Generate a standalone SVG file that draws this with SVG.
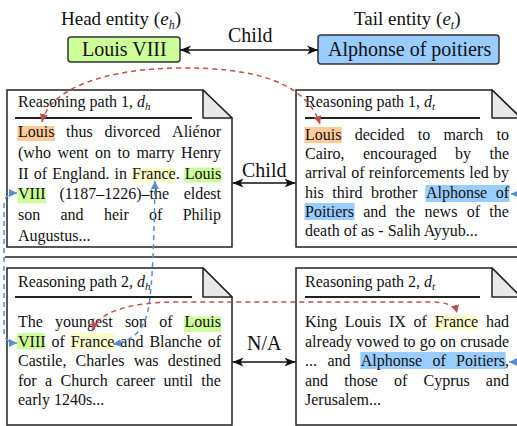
<svg xmlns="http://www.w3.org/2000/svg" width="517" height="426" viewBox="0 0 517 426">
  <style>
    text { font-family: "Liberation Serif", "Times New Roman", serif; fill: #111; }
    .body { font-size: 16px; }
    .hdr { font-size: 16px; }
    .title { font-size: 19px; }
    .lbl { font-size: 20px; }
    .it { font-style: italic; }
    .card { fill: #fff; stroke: #222; stroke-width: 1.5; }
    .fold { fill: #e8e8e8; stroke: #222; stroke-width: 1.5; stroke-linejoin: round; }
    .rule { stroke: #222; stroke-width: 1.8; }
    .ent { stroke: #333; stroke-width: 1.5; }
    .hl-o { fill: #ffcc99; }
    .hl-g { fill: #ccff99; }
    .hl-y { fill: #ffffcc; }
    .hl-b { fill: #99ccff; }
    .rel { fill: none; stroke: #111; stroke-width: 1.5; marker-start: url(#arr); marker-end: url(#arr); }
    .red { fill: none; stroke: #c0504d; stroke-width: 1.5; stroke-dasharray: 5 4; marker-start: url(#tipR); marker-end: url(#tipR); }
    .blue { fill: none; stroke: #5b8bd0; stroke-width: 1.5; stroke-dasharray: 5 4; marker-start: url(#tipB); marker-end: url(#tipB); }
  </style>
  <defs>
    <marker id="arr" markerUnits="userSpaceOnUse" markerWidth="12" markerHeight="10" refX="11" refY="5" orient="auto-start-reverse">
      <path d="M0,0.5 L11,5 L0,9.5 L3,5 Z" fill="#111"/>
    </marker>
    <marker id="tipR" markerUnits="userSpaceOnUse" markerWidth="9" markerHeight="9" refX="8" refY="4" orient="auto-start-reverse">
      <path d="M0,0 L8,4 L0,8 Z" fill="#c0504d"/>
    </marker>
    <marker id="tipB" markerUnits="userSpaceOnUse" markerWidth="9" markerHeight="9" refX="8" refY="4" orient="auto-start-reverse">
      <path d="M0,0 L8,4 L0,8 Z" fill="#5b8bd0"/>
    </marker>
  </defs>

  <!-- entities -->
  <g id="head-entity">
    <text class="title" x="61" y="25">Head entity (<tspan class="it">e</tspan><tspan class="it" font-size="12" dy="4">h</tspan><tspan dy="-4">)</tspan></text>
    <rect class="ent" x="68" y="37" width="112" height="25" rx="3" fill="#ccff99"/>
    <text class="lbl" x="82" y="56">Louis VIII</text>
  </g>
  <g id="tail-entity">
    <text class="title" x="354" y="25">Tail entity (<tspan class="it">e</tspan><tspan class="it" font-size="12" dy="4">t</tspan><tspan dy="-4">)</tspan></text>
    <rect class="ent" x="318" y="35" width="181" height="29" rx="3" fill="#99ccff"/>
    <text class="lbl" x="328" y="56">Alphonse of poitiers</text>
  </g>

  <!-- row separator -->
  <line x1="5" y1="257" x2="517" y2="257" stroke="#222" stroke-width="1.5"/>

  <!-- reasoning path 1, head document -->
  <g id="path1-head">
    <path class="card" d="M7,90 H203 L232,118 V247 H7 Z"/>
    <path class="fold" d="M203,90 V118 H232 Z"/>
    <text class="hdr" x="18" y="107">Reasoning path 1, <tspan class="it">d</tspan><tspan class="it" font-size="11" dy="3">h</tspan></text>
    <line class="rule" x1="15" y1="118" x2="192" y2="118"/>
    <rect class="hl-o" x="17.5" y="126" width="37.4" height="15"/>
    <rect class="hl-y" x="131.6" y="167.6" width="44.5" height="15"/>
    <rect class="hl-g" x="184.2" y="167.6" width="37.2" height="15"/>
    <rect class="hl-g" x="17.5" y="188.4" width="28.5" height="15"/>
    <text class="body" y="137"><tspan x="18">Louis</tspan><tspan x="66.1">thus</tspan><tspan x="104.4">divorced</tspan><tspan x="172.1">Aliénor</tspan></text>
    <text class="body" y="157.8"><tspan x="18">(who</tspan><tspan x="57.4">went</tspan><tspan x="95">on</tspan><tspan x="117.5">to</tspan><tspan x="136.4">marry</tspan><tspan x="181.1">Henry</tspan></text>
    <text class="body" y="178.6"><tspan x="18">II</tspan><tspan x="33.8">of</tspan><tspan x="52.2">England.</tspan><tspan x="114.6">in</tspan><tspan x="132.1">France.</tspan><tspan x="184.7">Louis</tspan></text>
    <text class="body" y="199.4"><tspan x="18">VIII</tspan><tspan x="59.5">(1187–1226)–the</tspan><tspan x="183.7">eldest</tspan></text>
    <text class="body" y="220.2"><tspan x="18">son</tspan><tspan x="60.5">and</tspan><tspan x="103.9">heir</tspan><tspan x="149.1">of</tspan><tspan x="182.7">Philip</tspan></text>
    <text class="body" x="18" y="241">Augustus...</text>
  </g>

  <!-- reasoning path 1, tail document -->
  <g id="path1-tail">
    <path class="card" d="M296,90 H492 L521,118 V247 H296 Z"/>
    <path class="fold" d="M492,90 V118 H521 Z"/>
    <text class="hdr" x="305" y="107">Reasoning path 1, <tspan class="it">d</tspan><tspan class="it" font-size="11" dy="3">t</tspan></text>
    <line class="rule" x1="305" y1="118" x2="480" y2="118"/>
    <rect class="hl-o" x="304.5" y="127" width="37.4" height="16"/>
    <rect class="hl-b" x="425.4" y="185" width="84.1" height="17"/>
    <rect class="hl-b" x="304.5" y="203" width="50" height="17"/>
    <text class="body" y="140"><tspan x="305">Louis</tspan><tspan x="354.7">decided</tspan><tspan x="417.7">to</tspan><tspan x="443.4">march</tspan><tspan x="496.6">to</tspan></text>
    <text class="body" y="159.2"><tspan x="305">Cairo,</tspan><tspan x="363">encouraged</tspan><tspan x="455.1">by</tspan><tspan x="489.5">the</tspan></text>
    <text class="body" y="178.4"><tspan x="305">arrival</tspan><tspan x="351.2">of</tspan><tspan x="368.8">reinforcements</tspan><tspan x="469.2">led</tspan><tspan x="493.1">by</tspan></text>
    <text class="body" y="197.6"><tspan x="305">his</tspan><tspan x="332.3">third</tspan><tspan x="371.1">brother</tspan><tspan x="425.9">Alphonse</tspan><tspan x="495.8">of</tspan></text>
    <text class="body" y="216.8"><tspan x="305">Poitiers</tspan><tspan x="363.2">and</tspan><tspan x="395.6">the</tspan><tspan x="424.5">news</tspan><tspan x="466.7">of</tspan><tspan x="489.3">the</tspan></text>
    <text class="body" x="305" y="236">death of as - Salih Ayyub...</text>
  </g>

  <!-- reasoning path 2, head document -->
  <g id="path2-head">
    <path class="card" d="M7,268 H203 L232,297 V425 H7 Z"/>
    <path class="fold" d="M203,268 V297 H232 Z"/>
    <text class="hdr" x="18" y="287">Reasoning path 2, <tspan class="it">d</tspan><tspan class="it" font-size="11" dy="3">h</tspan></text>
    <line class="rule" x1="15" y1="297" x2="192" y2="297"/>
    <rect class="hl-g" x="184.1" y="316.5" width="37.2" height="15.5"/>
    <rect class="hl-g" x="17" y="333" width="28" height="16.5"/>
    <rect class="hl-y" x="70.3" y="333" width="44" height="16.5"/>
    <text class="body" y="327"><tspan x="18">The</tspan><tspan x="55">youngest</tspan><tspan x="124.9">son</tspan><tspan x="159.2">of</tspan><tspan x="184.6">Louis</tspan></text>
    <text class="body" y="346.5"><tspan x="18">VIII</tspan><tspan x="51.5">of</tspan><tspan x="70.8">France</tspan><tspan x="120.3">and</tspan><tspan x="149.4">Blanche</tspan><tspan x="207.8">of</tspan></text>
    <text class="body" y="366"><tspan x="18">Castile,</tspan><tspan x="75.6">Charles</tspan><tspan x="133.7">was</tspan><tspan x="167.8">destined</tspan></text>
    <text class="body" y="385.5"><tspan x="18">for</tspan><tspan x="45.1">a</tspan><tspan x="60.6">Church</tspan><tspan x="116.1">career</tspan><tspan x="163.6">until</tspan><tspan x="201.3">the</tspan></text>
    <text class="body" x="18" y="405">early 1240s...</text>
  </g>

  <!-- reasoning path 2, tail document -->
  <g id="path2-tail">
    <path class="card" d="M296,268 H492 L521,297 V425 H296 Z"/>
    <path class="fold" d="M492,268 V297 H521 Z"/>
    <text class="hdr" x="305" y="287">Reasoning path 2, <tspan class="it">d</tspan><tspan class="it" font-size="11" dy="3">t</tspan></text>
    <line class="rule" x1="305" y1="297" x2="480" y2="297"/>
    <rect class="hl-y" x="434.2" y="315" width="44" height="15"/>
    <rect class="hl-b" x="360.3" y="352" width="145.5" height="17"/>
    <text class="body" y="327"><tspan x="305">King</tspan><tspan x="344.8">Louis</tspan><tspan x="389">IX</tspan><tspan x="413.6">of</tspan><tspan x="434.7">France</tspan><tspan x="486">had</tspan></text>
    <text class="body" x="305" y="346.5" word-spacing="0.2">already vowed to go on crusade</text>
    <text class="body" y="366"><tspan x="305">...</tspan><tspan x="327.4">and</tspan><tspan x="360.8">Alphonse</tspan><tspan x="432.5">of</tspan><tspan x="456.1">Poitiers,</tspan></text>
    <text class="body" y="385.5"><tspan x="305">and</tspan><tspan x="344.2">those</tspan><tspan x="394.1">of</tspan><tspan x="423.5">Cyprus</tspan><tspan x="485.8">and</tspan></text>
    <text class="body" x="305" y="405">Jerusalem...</text>
  </g>

  <!-- relations and mention links -->
  <g id="connectors">
    <path class="rel" d="M180,50 H318"/>
    <text class="lbl" x="228" y="42">Child</text>
    <path class="rel" d="M232.5,183 H295.5"/>
    <text class="lbl" x="242" y="177">Child</text>
    <path class="rel" d="M232.5,362 H295.5"/>
    <text class="lbl" x="247" y="350">N/A</text>

    <path class="red" d="M42,122 C48,95 90,70 175,68 C250,67 305,80 320,124"/>
    <path class="red" d="M92,330 C100,311 130,302 180,302 L430,302 C445,302 455,305 457,313"/>

    <path class="blue" d="M17,193 C8,193 4,197 4,207 L4,330 C4,339 8,343 17,343"/>
    <path class="blue" d="M155,181 C154,250 152,300 146,318 C140,335 128,342 113,344"/>
    <path class="blue" d="M511,194 L530,194 L530,362 L509,362"/>
  </g>
</svg>
